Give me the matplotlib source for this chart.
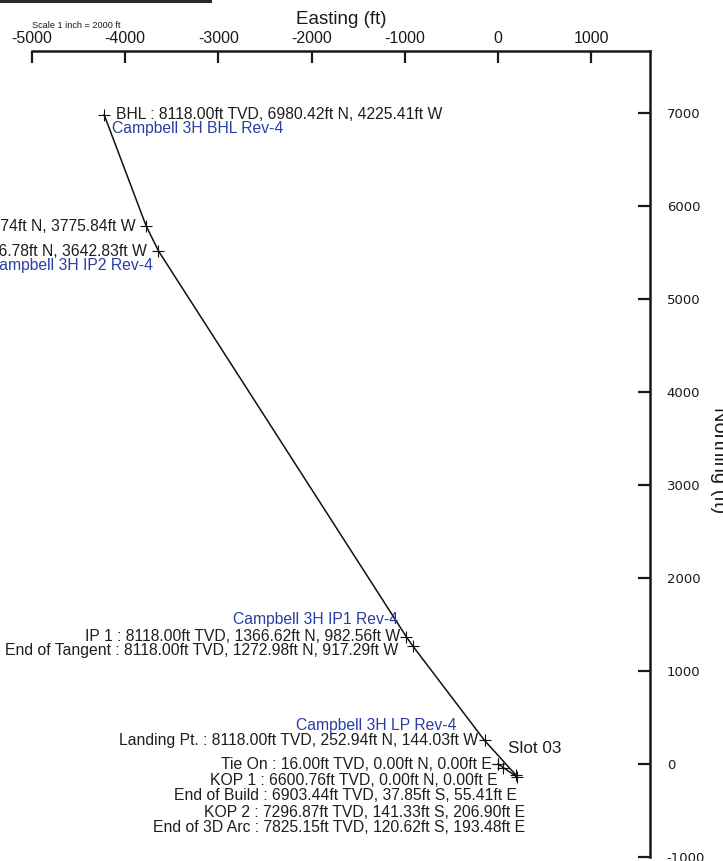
import matplotlib
matplotlib.use("Agg")
import matplotlib.pyplot as plt
from matplotlib.patches import Rectangle

plt.rcParams["font.family"] = ["Liberation Sans", "DejaVu Sans"]
plt.rcParams["axes.unicode_minus"] = False

# well path stations (ft): easting (+E / -W), northing (+N / -S)
station_names = ["Tie On", "KOP 1", "End of Build", "KOP 2", "End of 3D Arc",
                 "Landing Pt.", "End of Tangent", "IP 1", "IP 2", "End of Turn", "BHL"]
station_tvd = [16.00, 6600.76, 6903.44, 7296.87, 7825.15,
               8118.00, 8118.00, 8118.00, 8118.00, 8118.00, 8118.00]
easting = [0.0, 0.0, 55.41, 206.90, 193.48, -144.03, -917.29, -982.56, -3642.83, -3775.84, -4225.41]
northing = [0.0, 0.0, -37.85, -141.33, -120.62, 252.94, 1272.98, 1366.62, 5516.78, 5787.74, 6980.42]

targets = {"Campbell 3H BHL Rev-4": 10, "Campbell 3H IP2 Rev-4": 8,
           "Campbell 3H IP1 Rev-4": 7, "Campbell 3H LP Rev-4": 5}

x_ticks = [-5000, -4000, -3000, -2000, -1000, 0, 1000]
y_ticks = [-1000, 0, 1000, 2000, 3000, 4000, 5000, 6000, 7000]

# label offsets in points (dx, dy, ha)
label_off = [(-4.5, -0.5, "right"), (0, -12.2, "right"), (10, -20.5, "right"),
             (5.8, -25.5, "right"), (6.5, -37.5, "right"), (-5, 0, "right"),
             (-10.5, -3.5, "right"), (-4.5, 0, "right"), (-8, -0.7, "right"),
             (-7.2, -0.7, "right"), (8.6, 0.5, "left")]
target_off = {"Campbell 3H BHL Rev-4": (5.8, -9.6, "left"),
              "Campbell 3H IP2 Rev-4": (-3.6, -10.8, "right"),
              "Campbell 3H IP1 Rev-4": (-5.8, 12.2, "right"),
              "Campbell 3H LP Rev-4": (-20, 10.5, "right")}

LABEL_SIZE = 11.3


def fmt_label(name, tvd, e, n):
    ns = "N" if n >= 0 else "S"
    ew = "E" if e >= 0 else "W"
    return f"{name} : {tvd:.2f}ft TVD, {abs(n):.2f}ft {ns}, {abs(e):.2f}ft {ew}"


fig = plt.figure(figsize=(7.23, 8.61), dpi=100)
ax = fig.add_axes([0, 0, 1, 1])
ax.set_xlim(-5343, 2414)
ax.set_ylim(-1043, 8215)
ax.patch.set_alpha(0)

ax.plot(easting, northing, color="#111111", lw=1.1)
ax.plot(easting, northing, ls="none", marker="+", ms=8, mew=0.8, color="#111111")

for i, name in enumerate(station_names):
    dx, dy, ha = label_off[i]
    ax.annotate(fmt_label(name, station_tvd[i], easting[i], northing[i]),
                xy=(easting[i], northing[i]), xytext=(dx, dy), textcoords="offset points",
                ha=ha, va="center", fontsize=LABEL_SIZE, color="#1e1e1e")

for tname, idx in targets.items():
    dx, dy, ha = target_off[tname]
    ax.annotate(tname, xy=(easting[idx], northing[idx]), xytext=(dx, dy),
                textcoords="offset points", ha=ha, va="center", fontsize=LABEL_SIZE,
                color="#2a3da6")

ax.annotate("Slot 03", xy=(easting[0], northing[0]), xytext=(7.2, 11.5),
            textcoords="offset points", ha="left", va="center", fontsize=12.3, color="#1e1e1e")

# frame: top and right axes only
x_right = 1631
y_top = 7667
for s in ["left", "bottom"]:
    ax.spines[s].set_visible(False)
ax.spines["top"].set_position(("data", y_top))
ax.spines["top"].set_bounds(-5000, x_right)
ax.spines["right"].set_position(("data", x_right))
ax.spines["right"].set_bounds(-1000, y_top)
for s in ["top", "right"]:
    ax.spines[s].set_linewidth(1.8)
    ax.spines[s].set_color("#1a1a1a")

ax.xaxis.set_ticks_position("top")
ax.yaxis.set_ticks_position("right")
ax.set_xticks(x_ticks)
ax.set_yticks(y_ticks)
ax.tick_params(axis="x", direction="in", length=8.6, width=1.6, pad=3.5, labelsize=11.5,
               colors="#1a1a1a")
ax.tick_params(axis="y", direction="in", length=8.6, width=1.6, pad=12, labelsize=9.5,
               colors="#1a1a1a")
for lab in ax.get_yticklabels():
    lab.set_family("DejaVu Sans")

fig.text(341 / 723, 1 - 20 / 861, "Easting (ft)", ha="center", va="center", fontsize=13.5,
         color="#1a1a1a")
fig.text(719 / 723, 1 - 460 / 861, "Northing (ft)", ha="center", va="center", fontsize=14.5,
         rotation=270, color="#1a1a1a")
fig.text(32 / 723, 1 - 25 / 861, "Scale 1 inch = 2000 ft", ha="left", va="center",
         fontsize=6.6, color="#1a1a1a")
fig.add_artist(Rectangle((0, 1 - 3 / 861), 212 / 723, 3 / 861, transform=fig.transFigure,
                         color="#2a2a2a", lw=0))

fig.savefig("out.png", dpi=100)
